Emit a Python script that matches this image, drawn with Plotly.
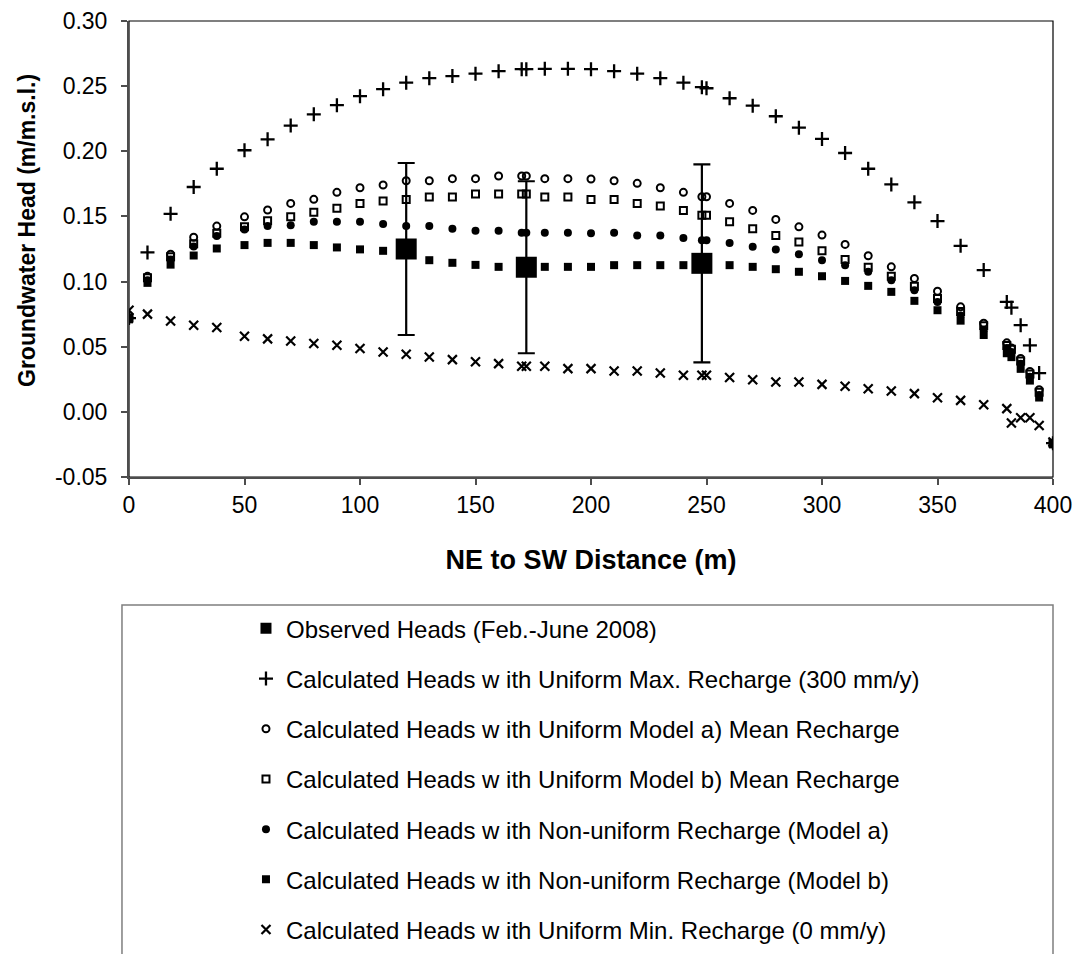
import plotly.graph_objects as go

# Distance along the NE-SW section (m)
distance = [0, 8, 18, 28, 38, 50, 60, 70, 80, 90, 100, 110, 120, 130, 140, 150,
            160, 170, 172, 180, 190, 200, 210, 220, 230, 240, 248, 250, 260, 270,
            280, 290, 300, 310, 320, 330, 340, 350, 360, 370, 380, 382, 386, 390,
            394, 400]

# Calculated heads (m/m.s.l.)
head_max = [0.072, 0.1224, 0.152, 0.1726, 0.1866, 0.2008, 0.2092, 0.2197, 0.2284,
            0.2354, 0.2423, 0.2477, 0.2527, 0.2561, 0.2577, 0.2596, 0.2615, 0.263,
            0.263, 0.2633, 0.2633, 0.263, 0.2615, 0.2596, 0.2561, 0.2527, 0.2492,
            0.2484, 0.2407, 0.235, 0.2269, 0.2181, 0.2095, 0.1987, 0.1866, 0.1746,
            0.1608, 0.1464, 0.1274, 0.1088, 0.0844, 0.080, 0.0665, 0.0511, 0.0298,
            -0.024]
head_unif_a = [0.072, 0.104, 0.121, 0.134, 0.1426, 0.1497, 0.1549, 0.160, 0.1631,
               0.1685, 0.172, 0.1741, 0.1774, 0.1774, 0.179, 0.179, 0.181, 0.181,
               0.181, 0.179, 0.179, 0.1787, 0.1774, 0.1754, 0.172, 0.1685, 0.1651,
               0.1651, 0.160, 0.1546, 0.1477, 0.142, 0.1357, 0.1285, 0.1198, 0.1113,
               0.1024, 0.0926, 0.0806, 0.068, 0.053, 0.049, 0.041, 0.031, 0.017,
               -0.024]
head_unif_b = [0.072, 0.103, 0.119, 0.129, 0.137, 0.142, 0.1467, 0.1497, 0.1533,
               0.1562, 0.160, 0.1618, 0.163, 0.165, 0.165, 0.1672, 0.1672, 0.1672,
               0.1672, 0.165, 0.165, 0.163, 0.163, 0.160, 0.158, 0.1546, 0.151,
               0.151, 0.1459, 0.1405, 0.1354, 0.1303, 0.1236, 0.117, 0.111, 0.104,
               0.0965, 0.087, 0.077, 0.066, 0.051, 0.048, 0.039, 0.029, 0.015,
               -0.024]
head_nonunif_a = [0.072, 0.101, 0.117, 0.127, 0.135, 0.140, 0.1426, 0.1433, 0.1459,
                  0.1459, 0.1459, 0.1441, 0.1426, 0.1426, 0.1405, 0.139, 0.139,
                  0.1374, 0.1374, 0.1374, 0.1374, 0.137, 0.1374, 0.1354, 0.1354,
                  0.1334, 0.1318, 0.1318, 0.1297, 0.1267, 0.1247, 0.121, 0.1164,
                  0.1126, 0.1075, 0.101, 0.0934, 0.0844, 0.074, 0.063, 0.049, 0.046,
                  0.037, 0.027, 0.013, -0.024]
head_nonunif_b = [0.071, 0.099, 0.113, 0.120, 0.1254, 0.128, 0.1297, 0.1297, 0.128,
                  0.1262, 0.1247, 0.1236, 0.121, 0.1164, 0.1144, 0.1128, 0.1113,
                  0.111, 0.111, 0.1113, 0.1113, 0.1113, 0.1126, 0.1126, 0.1126,
                  0.1126, 0.1126, 0.1126, 0.1126, 0.1113, 0.1095, 0.1075, 0.1041,
                  0.1005, 0.0967, 0.0921, 0.0852, 0.078, 0.070, 0.059, 0.045, 0.042,
                  0.033, 0.024, 0.011, -0.025]
head_min = [0.078, 0.075, 0.0698, 0.0665, 0.0647, 0.058, 0.056, 0.0544, 0.0524,
            0.0511, 0.0486, 0.046, 0.0442, 0.0421, 0.0401, 0.0385, 0.037, 0.035,
            0.035, 0.035, 0.0332, 0.0332, 0.0314, 0.0314, 0.0298, 0.0281, 0.0281,
            0.0281, 0.0263, 0.0247, 0.0229, 0.0229, 0.0211, 0.0196, 0.0178, 0.016,
            0.014, 0.0109, 0.0088, 0.0055, 0.0025, -0.0086, -0.0045, -0.0045,
            -0.0104, -0.0232]

# Observed heads (Feb.-June 2008) with their range
obs_distance = [120, 172, 248]
obs_head = [0.125, 0.111, 0.114]
obs_error = [0.066, 0.066, 0.076]

y_ticks = [-0.05, 0.00, 0.05, 0.10, 0.15, 0.20, 0.25, 0.30]
y_tick_labels = ["-0.05", "0.00", "0.05", "0.10", "0.15", "0.20", "0.25", "0.30"]
x_ticks = [0, 50, 100, 150, 200, 250, 300, 350, 400]

names = [
    "Observed Heads (Feb.-June 2008)",
    "Calculated Heads w ith Uniform Max. Recharge (300 mm/y)",
    "Calculated Heads w ith Uniform Model a) Mean Recharge",
    "Calculated Heads w ith Uniform Model b) Mean Recharge",
    "Calculated Heads w ith Non-uniform Recharge (Model a)",
    "Calculated Heads w ith Non-uniform Recharge (Model b)",
    "Calculated Heads w ith Uniform Min. Recharge (0 mm/y)",
]

FONT = "Liberation Sans, Arial, sans-serif"
BLACK = "black"

fig = go.Figure()

# legend entry for the observed heads (small symbol, no data)
fig.add_trace(go.Scatter(
    x=[None], y=[None], mode="markers", name=names[0], legendgroup="g0",
    marker=dict(symbol="square", size=11, color=BLACK),
))

series = [
    (head_max, "cross-thin", 10, 2.3),
    (head_unif_a, "circle-open", 7, 2.0),
    (head_unif_b, "square-open", 7, 2.0),
    (head_nonunif_a, "circle", 8, 0),
    (head_nonunif_b, "square", 8, 0),
    (head_min, "x-thin", 9, 2.2),
]
for i, (vals, sym, size, lw) in enumerate(series, start=1):
    fig.add_trace(go.Scatter(
        x=distance, y=vals, mode="markers", name=names[i], legendgroup=f"g{i}",
        marker=dict(symbol=sym, size=size, color=BLACK,
                    line=dict(color=BLACK, width=lw)),
    ))

# observed heads drawn on top, with error bars
fig.add_trace(go.Scatter(
    x=obs_distance, y=obs_head, mode="markers", showlegend=False,
    marker=dict(symbol="square", size=21, color=BLACK),
    error_y=dict(type="data", array=obs_error, visible=True,
                 color=BLACK, thickness=2.2, width=8.5),
))

# plot frame (top and right edges)
fig.add_shape(type="rect", xref="paper", yref="paper", x0=0, x1=1, y0=0, y1=1,
              line=dict(color=BLACK, width=1.2), layer="below")
# legend frame
fig.add_shape(type="rect", xref="paper", yref="paper",
              x0=-0.0076, x1=1.0, y0=-1.06, y1=-0.2807,
              line=dict(color="#7f7f7f", width=1.5))

# vertical axis title
fig.add_annotation(
    text="Groundwater Head (m/m.s.l.)", xref="paper", yref="paper",
    x=-0.1104, y=0.5417, xanchor="center", yanchor="middle",
    textangle=-90, showarrow=False,
    font=dict(family=FONT, size=23, color=BLACK, weight="bold"),
)

fig.update_layout(
    width=1077, height=954,
    margin=dict(l=129, r=24, t=21, b=477, autoexpand=False),
    paper_bgcolor="white", plot_bgcolor="white",
    font=dict(family=FONT, size=23, color=BLACK),
    showlegend=True,
    legend=dict(
        x=0.1266, y=-0.2834, xanchor="left", yanchor="top",
        font=dict(family=FONT, size=24, color=BLACK),
        bgcolor="rgba(0,0,0,0)", borderwidth=0,
        tracegroupgap=16, traceorder="grouped", itemsizing="trace",
    ),
    xaxis=dict(
        range=[0, 400], tickvals=x_ticks, showgrid=False, zeroline=False,
        showline=True, linecolor="#4d4d4d", linewidth=2,
        ticks="outside", ticklen=6, tickcolor="#4d4d4d", tickwidth=1.5,
        tickfont=dict(family=FONT, size=23, color=BLACK),
        title=dict(text="NE to SW Distance (m)", standoff=34,
                   font=dict(family=FONT, size=27, color=BLACK, weight="bold")),
    ),
    yaxis=dict(
        range=[-0.05, 0.30], tickvals=y_ticks, ticktext=y_tick_labels,
        showgrid=False, zeroline=False,
        showline=True, linecolor="#4d4d4d", linewidth=2,
        ticks="outside", ticklen=6, tickcolor="#4d4d4d", tickwidth=1.5,
        tickfont=dict(family=FONT, size=23, color=BLACK),
        ticklabelstandoff=9,
    ),
)

fig.write_html("out.html")
